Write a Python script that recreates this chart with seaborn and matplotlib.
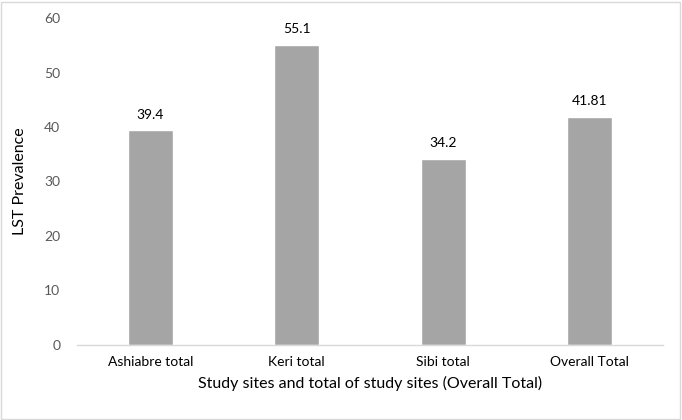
import pandas as pd
import matplotlib
matplotlib.use("Agg")
import matplotlib.pyplot as plt
import seaborn as sns
from matplotlib.patches import Rectangle

# Data
sites = ["Ashiabre total", "Keri total", "Sibi total", "Overall Total"]
prevalence = [39.4, 55.1, 34.2, 41.81]
value_labels = ["39.4", "55.1", "34.2", "41.81"]

sns.set_theme(style="white")
plt.rcParams["font.family"] = ["Lato", "DejaVu Sans"]

df = pd.DataFrame({"site": sites, "prev": prevalence})

fig = plt.figure(figsize=(6.82, 4.2), dpi=100)
ax = fig.add_axes([0.113, 0.179, 0.859, 0.778])

sns.barplot(data=df, x="site", y="prev", color="#A5A5A5", saturation=1,
            width=0.31, ax=ax)

for bar, lab in zip(ax.patches, value_labels):
    ax.annotate(lab, (bar.get_x() + bar.get_width() / 2, bar.get_height()),
                xytext=(0, 7), textcoords="offset points",
                ha="center", va="bottom", fontsize=10, color="#000000")

ax.set_ylim(0, 60)
ax.set_yticks(range(0, 61, 10))
ax.set_xlim(-0.5, 3.5)
ax.tick_params(axis="y", colors="#595959", labelsize=10, length=0, pad=12)
ax.tick_params(axis="x", colors="#595959", labelsize=10, length=0, pad=8)
for t in ax.get_xticklabels():
    t.set_color("#000000")

ax.set_xlabel("Study sites and total of study sites (Overall Total)",
              fontsize=11.5, color="#000000", labelpad=6)
ax.set_ylabel("LST Prevalence", fontsize=11.5, color="#000000")
ax.yaxis.set_label_coords(-0.085, 0.5)

for s in ["top", "right", "left"]:
    ax.spines[s].set_visible(False)
ax.spines["bottom"].set_color("#D9D9D9")
ax.spines["bottom"].set_linewidth(1)

# light frame around the whole chart
fig.patches.append(Rectangle((0.002, 0.003), 0.995, 0.993, transform=fig.transFigure,
                             fill=False, edgecolor="#D9D9D9", linewidth=1))

fig.savefig("out.png", dpi=100)
plt.close(fig)
